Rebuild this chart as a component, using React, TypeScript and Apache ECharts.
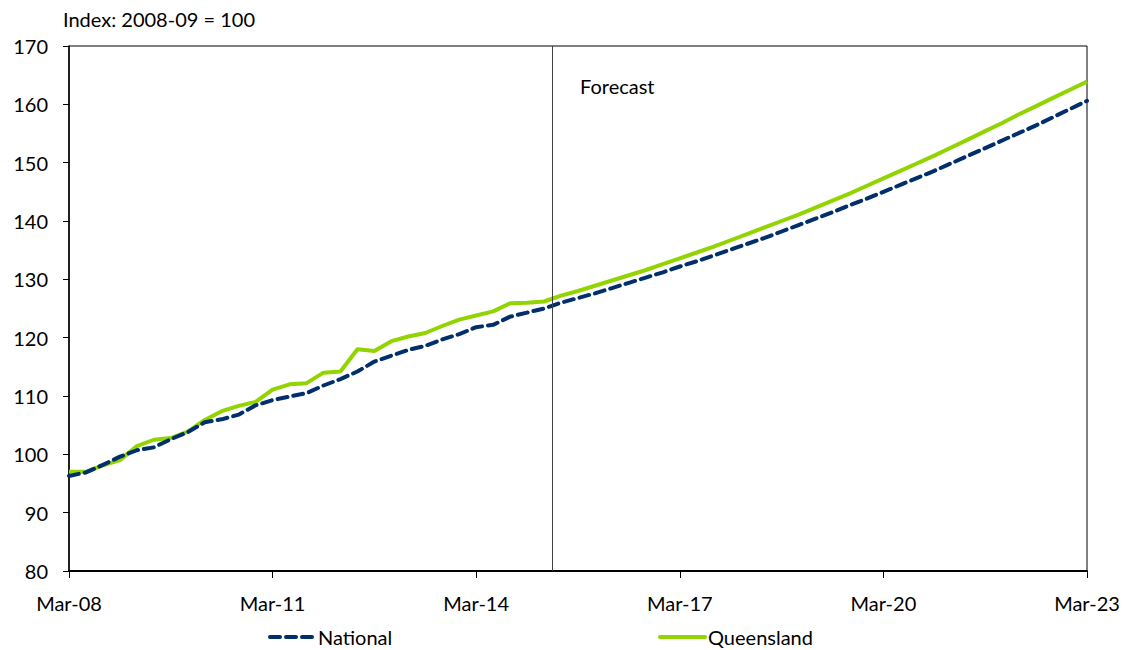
import React, { useEffect, useRef } from "react";
import * as echarts from "echarts";

const tickLabels = ["Mar-08", "Mar-11", "Mar-14", "Mar-17", "Mar-20", "Mar-23"];

// Quarterly values, Mar-08 .. Mar-23 (61 quarters)
const national = [
  96.3, 96.9, 98.2, 99.6, 100.7, 101.2, 102.6, 103.8, 105.5, 106.0,
  106.8, 108.4, 109.3, 109.9, 110.5, 111.8, 112.9, 114.2, 115.9, 116.9,
  117.9, 118.6, 119.7, 120.6, 121.8, 122.2, 123.6, 124.3, 125.0, 126.0,
  126.8, 127.6, 128.5, 129.4, 130.3, 131.2, 132.2, 133.1, 134.1, 135.1,
  136.1, 137.1, 138.2, 139.3, 140.4, 141.5, 142.7, 143.8, 145.0, 146.2,
  147.4, 148.6, 149.9, 151.2, 152.5, 153.8, 155.1, 156.4, 157.8, 159.2,
  160.6,
];

const queensland = [
  97.0, 97.0, 98.1, 99.0, 101.4, 102.5, 102.8, 103.9, 105.9, 107.4,
  108.3, 109.0, 111.1, 112.0, 112.2, 114.0, 114.2, 118.0, 117.7, 119.4,
  120.2, 120.8, 122.0, 123.1, 123.8, 124.5, 125.9, 126.0, 126.2, 127.2,
  128.0, 128.9, 129.8, 130.7, 131.6, 132.6, 133.6, 134.6, 135.6, 136.7,
  137.8, 138.9, 140.0, 141.1, 142.3, 143.5, 144.7, 146.0, 147.3, 148.6,
  149.9, 151.2, 152.6, 154.0, 155.4, 156.8, 158.3, 159.7, 161.1, 162.5,
  163.9,
];

const forecastStart = 28.5; // quarter index where forecast begins
const seriesNames = ["National", "Queensland"];

const FONT = "Lato, 'Open Sans', sans-serif";

export default function App() {
  const ref = useRef<HTMLDivElement>(null);

  useEffect(() => {
    if (!ref.current) return;
    const chart = echarts.init(ref.current, null, { renderer: "svg" });
    const toPairs = (arr: number[]) => arr.map((v, i) => [i, v]);
    const legendCommon = {
      top: 627,
      padding: 0,
      itemWidth: 45,
      itemHeight: 14,
      itemGap: 4,
      itemStyle: { opacity: 0 },
      lineStyle: { width: 4, cap: "round" },
      textStyle: { fontFamily: FONT, fontSize: 20, lineHeight: 20, color: "#000", padding: [0, 0, 0, -2] },
    };
    chart.setOption({
      animation: false,
      backgroundColor: "#ffffff",
      textStyle: { fontFamily: FONT },
      title: {
        text: "Index: 2008-09 = 100",
        left: 63,
        top: 9,
        padding: 0,
        textStyle: { fontFamily: FONT, fontSize: 20, fontWeight: "normal", color: "#000" },
      },
      grid: {
        left: 69,
        right: 39,
        top: 46,
        bottom: 79,
        show: true,
        borderColor: "#000",
        borderWidth: 1,
        backgroundColor: "transparent",
      },
      legend: [
        { ...legendCommon, data: [seriesNames[0]], left: 268 },
        { ...legendCommon, data: [seriesNames[1]], left: 658 },
      ],
      xAxis: {
        type: "value",
        min: 0,
        max: 60,
        interval: 12,
        axisLine: { show: true, lineStyle: { color: "#000", width: 2 } },
        axisTick: { show: true, length: 7, lineStyle: { color: "#000", width: 1 } },
        splitLine: { show: false },
        axisLabel: {
          margin: 22,
          fontFamily: FONT,
          fontSize: 20,
          color: "#000",
          formatter: (v: number) => tickLabels[Math.round(v / 12)] ?? "",
        },
      },
      yAxis: {
        type: "value",
        min: 80,
        max: 170,
        interval: 10,
        axisLine: { show: true, lineStyle: { color: "#000", width: 1.5 } },
        axisTick: { show: true, length: 6, lineStyle: { color: "#000", width: 1 } },
        splitLine: { show: false },
        axisLabel: {
          margin: 21,
          fontFamily: FONT,
          fontSize: 20,
          color: "#000",
        },
      },
      graphic: [
        {
          type: "text",
          left: 580,
          top: 76,
          style: { text: "Forecast", fontFamily: FONT, fontSize: 20, fill: "#000" },
        },
      ],
      series: [
        {
          name: seriesNames[0],
          type: "line",
          data: toPairs(national),
          showSymbol: false,
          symbol: "none",
          lineStyle: { color: "#002f6c", width: 4, type: [10, 6], cap: "round" },
          itemStyle: { color: "#002f6c" },
          z: 3,
          markLine: {
            silent: true,
            symbol: "none",
            label: { show: false },
            lineStyle: { color: "#404040", width: 1, type: "solid" },
            data: [{ xAxis: forecastStart }],
          },
        },
        {
          name: seriesNames[1],
          type: "line",
          data: toPairs(queensland),
          showSymbol: false,
          symbol: "none",
          lineStyle: { color: "#92d400", width: 4 },
          itemStyle: { color: "#92d400" },
          z: 2,
        },
      ],
    });
    return () => chart.dispose();
  }, []);

  return <div ref={ref} style={{ width: 1126, height: 650, position: "absolute", left: 0, top: 0 }} />;
}
